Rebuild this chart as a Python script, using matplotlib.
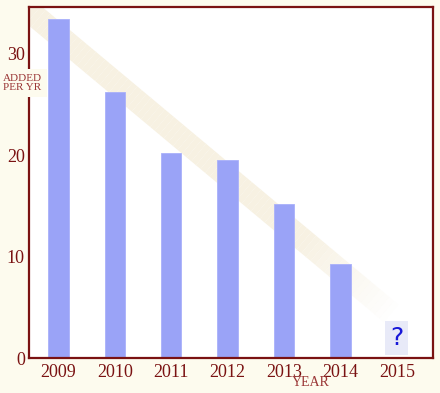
import numpy as np
import matplotlib.pyplot as plt

# data
years = ['2009', '2010', '2011', '2012', '2013', '2014', '2015']
added = [33.4, 26.2, 20.2, 19.5, 15.2, 9.3, None]   # 2015 unknown -> "?"
yticks = [0, 10, 20, 30]
trend_x = [-0.6, 5.9]    # faint diagonal band (start, end)
trend_y = [34.6, 4.4]

bg_color = '#FDFBEE'
fg_color = '#7A1212'
label_color = '#9A3535'
bar_color = '#9AA3F7'
band_color = '#F7F1E2'

plt.rcParams['font.family'] = ['Liberation Serif', 'DejaVu Serif']

fig = plt.figure(figsize=(4.4, 3.93), dpi=100)
fig.patch.set_facecolor(bg_color)
ax = fig.add_axes([0.066, 0.089, 0.918, 0.893])
ax.set_facecolor('white')

x = np.arange(len(years))

# diagonal band, fading out toward its lower end
n = 80
bx = np.linspace(trend_x[0], trend_x[1], n + 1)
by = np.linspace(trend_y[0], trend_y[1], n + 1)
for i in range(n):
    frac = i / n
    a = 1.0 if frac < 0.75 else max(0.0, 1 - (frac - 0.75) / 0.25)
    ax.plot(bx[i:i + 2], by[i:i + 2], color=band_color, alpha=a,
            linewidth=16.5, solid_capstyle='butt', zorder=1)

vals = [v if v is not None else 0 for v in added]
ax.bar(x, vals, width=0.36, color=bar_color, edgecolor='#A9B0FA',
       linewidth=0.6, zorder=2)

for xi, v in zip(x, added):
    if v is None:
        ax.text(xi, 2.0, '?', ha='center', va='center', color='#1818D8',
                fontsize=18, family=['DejaVu Sans'], zorder=3,
                bbox=dict(boxstyle='square,pad=0.2', facecolor='#E8EAF8',
                          edgecolor='none'))

ax.set_xlim(-0.52, 6.64)
ax.set_ylim(0, 34.6)
ax.set_xticks(x)
ax.set_xticklabels(years, fontsize=13, color=fg_color)
ax.set_yticks(yticks)
ax.set_yticklabels([str(t) for t in yticks], fontsize=13, color=fg_color)
ax.tick_params(axis='both', length=0)
ax.tick_params(axis='x', pad=4)
ax.tick_params(axis='y', pad=3)

for spine in ax.spines.values():
    spine.set_edgecolor(fg_color)
    spine.set_linewidth(1.6)

fig.text(0.05, 0.79, 'ADDED\nPER YR', ha='center', va='center',
         fontsize=8, color=label_color, linespacing=1.0,
         bbox=dict(boxstyle='square,pad=0.45', facecolor=bg_color,
                   edgecolor='none'))
fig.text(0.707, 0.026, 'YEAR', ha='center', va='center',
         fontsize=10, color=label_color)

plt.savefig('out.png', facecolor=bg_color)
